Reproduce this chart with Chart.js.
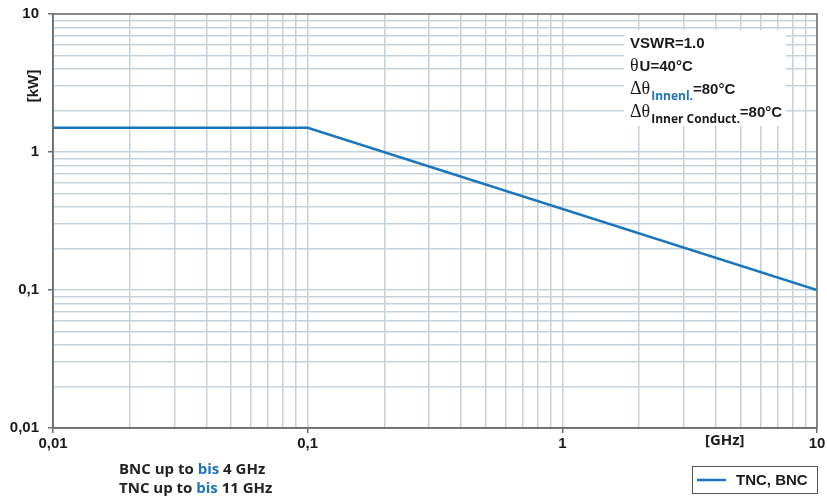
<!DOCTYPE html>
<html>
<head>
<meta charset="utf-8">
<script src="https://cdn.jsdelivr.net/npm/chart.js@4.4.0/dist/chart.umd.min.js"></script>
<style>
html,body{margin:0;padding:0;background:#fff;}
#wrap{width:827px;height:502px;position:relative;}
</style>
</head>
<body>
<div id="wrap"><canvas id="c" width="827" height="502"></canvas></div>
<script>
// Data
const freqGHz = [0.01, 0.1, 10];
const powerKW = [1.5, 1.5, 0.1];
const seriesName = 'TNC, BNC';
const decadeTicks = [0.01, 0.1, 1, 10];
const decadeLabels = ['0,01', '0,1', '1', '10'];
const xUnit = '[GHz]';
const yUnit = '[kW]';
const notes = [
  [['BNC up to ', '#222'], ['bis', '#1a75bc'], [' 4 GHz', '#222']],
  [['TNC up to ', '#222'], ['bis', '#1a75bc'], [' 11 GHz', '#222']]
];

const gridVals = [];
for (let d = 0.01; d < 10; d *= 10) {
  for (let m = 1; m < 10; m++) gridVals.push(+(m * d).toPrecision(3));
}
gridVals.push(10);

function isDecade(v) { return decadeTicks.some(t => Math.abs(t - v) / t < 1e-6); }
function labelFor(v) {
  const i = decadeTicks.findIndex(t => Math.abs(t - v) / t < 1e-6);
  return i >= 0 ? decadeLabels[i] : '';
}

const LINE = '#1a75bc';
const GRID = '#c4d1dd';
const AXIS = '#6e6e6e';

const overlay = {
  id: 'overlay',
  beforeDatasetsDraw(chart) {
    const ctx = chart.ctx;
    ctx.save();
    ctx.fillStyle = '#fff';
    ctx.fillRect(624, 30, 162, 96);
    ctx.textBaseline = 'alphabetic';
    ctx.fillStyle = '#1a1a1a';
    ctx.font = 'bold 15px "Liberation Sans", Arial, sans-serif';
    ctx.fillText('VSWR=1.0', 630, 48);
    ctx.font = '18px "Liberation Serif", serif';
    ctx.fillText('\u03b8', 630, 71);
    let w = ctx.measureText('\u03b8').width;
    ctx.font = 'bold 15px "Liberation Sans", Arial, sans-serif';
    ctx.fillText('U=40\u00b0C', 630 + w + 1, 71);
    function dt(y, sub, subColor) {
      ctx.font = '18px "Liberation Serif", serif';
      ctx.fillStyle = '#1a1a1a';
      ctx.fillText('\u0394\u03b8', 630, y);
      let x = 630 + ctx.measureText('\u0394\u03b8').width + 1;
      ctx.font = 'bold 12px "Open Sans", sans-serif';
      ctx.fillStyle = subColor;
      ctx.fillText(sub, x, y + 6);
      x += ctx.measureText(sub).width;
      ctx.font = 'bold 15px "Liberation Sans", Arial, sans-serif';
      ctx.fillStyle = '#1a1a1a';
      ctx.fillText('=80\u00b0C', x, y);
    }
    dt(94, 'Innenl.', LINE);
    dt(117, 'Inner Conduct.', '#1a1a1a');
    ctx.restore();
  },
  afterDraw(chart) {
    const ctx = chart.ctx;
    const a = chart.chartArea;
    ctx.save();
    ctx.strokeStyle = AXIS;
    ctx.lineWidth = 1.5;
    ctx.strokeRect(a.left, a.top, a.right - a.left, a.bottom - a.top);
    ctx.fillStyle = '#1a1a1a';
    ctx.font = 'bold 15px "Open Sans", sans-serif';
    ctx.textAlign = 'left';
    ctx.textBaseline = 'middle';
    ctx.fillText(xUnit, 705, 441);
    ctx.save();
    ctx.translate(34, 86);
    ctx.rotate(-Math.PI / 2);
    ctx.textAlign = 'center';
    ctx.font = 'bold 15px "Liberation Sans", Arial, sans-serif';
    ctx.fillText(yUnit, 0, 0);
    ctx.restore();
    ctx.font = 'bold 15px "Open Sans", sans-serif';
    notes.forEach((parts, i) => {
      let x = 119;
      const y = 470 + i * 19;
      parts.forEach(([t, c]) => {
        ctx.fillStyle = c;
        ctx.fillText(t, x, y);
        x += ctx.measureText(t).width;
      });
    });
    ctx.strokeStyle = '#555';
    ctx.lineWidth = 1;
    ctx.strokeRect(692.5, 466.5, 125, 27);
    ctx.strokeStyle = LINE;
    ctx.lineWidth = 2.5;
    ctx.beginPath();
    ctx.moveTo(697, 480);
    ctx.lineTo(726, 480);
    ctx.stroke();
    ctx.fillStyle = '#1a1a1a';
    ctx.font = 'bold 15px "Liberation Sans", Arial, sans-serif';
    ctx.fillText(seriesName, 736, 480.5);
    ctx.restore();
  }
};

new Chart(document.getElementById('c'), {
  type: 'line',
  data: {
    datasets: [{
      label: seriesName,
      data: freqGHz.map((x, i) => ({ x, y: powerKW[i] })),
      borderColor: LINE,
      borderWidth: 2.5,
      pointRadius: 0,
      tension: 0,
      fill: false
    }]
  },
  options: {
    responsive: false,
    animation: false,
    devicePixelRatio: 1,
    layout: { padding: { top: 14, right: 10, left: 0, bottom: 0 } },
    plugins: { legend: { display: false }, tooltip: { enabled: false } },
    scales: {
      x: {
        type: 'logarithmic',
        min: 0.01, max: 10,
        afterBuildTicks(s) { s.ticks = gridVals.map(v => ({ value: v })); },
        afterFit(s) { s.height = 74; s.paddingLeft = 0; s.paddingRight = 0; },
        ticks: {
          autoSkip: false, maxRotation: 0, minRotation: 0, padding: 2,
          color: '#1a1a1a',
          font: { family: '"Liberation Sans", Arial, sans-serif', size: 15, weight: 'bold' },
          callback: (v) => labelFor(v)
        },
        grid: {
          color: GRID, lineWidth: 1.5, tickLength: 5,
          tickColor: (c) => isDecade(c.tick.value) ? AXIS : 'rgba(0,0,0,0)'
        },
        border: { color: AXIS, width: 1.5 }
      },
      y: {
        type: 'logarithmic',
        min: 0.01, max: 10,
        afterBuildTicks(s) { s.ticks = gridVals.map(v => ({ value: v })); },
        afterFit(s) { s.width = 53; s.paddingTop = 0; s.paddingBottom = 0; },
        ticks: {
          autoSkip: false, padding: 9,
          color: '#1a1a1a',
          font: { family: '"Liberation Sans", Arial, sans-serif', size: 15, weight: 'bold' },
          callback: (v) => labelFor(v)
        },
        grid: {
          color: GRID, lineWidth: 1.5, tickLength: 5,
          tickColor: (c) => isDecade(c.tick.value) ? AXIS : 'rgba(0,0,0,0)'
        },
        border: { color: AXIS, width: 1.5 }
      }
    }
  },
  plugins: [overlay]
});
</script>
</body>
</html>
